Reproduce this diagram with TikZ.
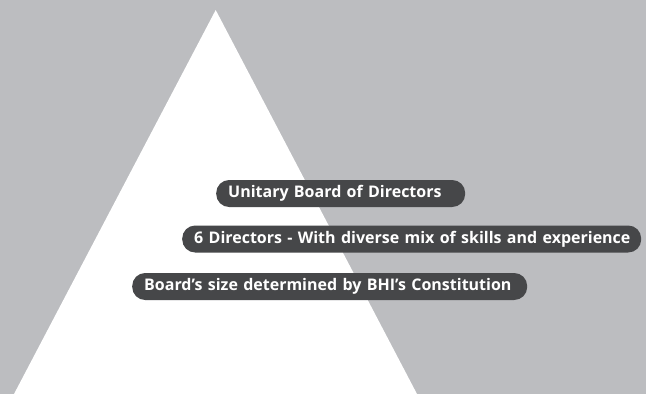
\documentclass[tikz,border=0pt]{standalone}
\usepackage{fontspec}
\setmainfont{Open Sans}
\usepackage{xcolor}

\tikzset{
  pill/.style={fill=pillGray, text=white, rounded corners=13pt, minimum height=27pt,
    inner xsep=12pt, inner ysep=0pt, align=left, anchor=west,
    font=\fontsize{16}{18}\selectfont\bfseries}
}

\begin{document}
\begin{tikzpicture}[x=1pt,y=-1pt]
\definecolor{bgGray}{RGB}{188,189,192}
\definecolor{pillGray}{RGB}{70,71,73}
\useasboundingbox (0,0) rectangle (646,394);
\fill[bgGray] (0,0) rectangle (646,394);
% white pyramid
\fill[white] (215.7,10) -- (417,394) -- (14,394) -- cycle;
% labels
\node[pill, text width=225pt] (unitary) at (216,193.5) {\mbox{Unitary Board of Directors}};
\node[pill, text width=435pt] (directors) at (182,239) {\mbox{6 Directors - With diverse mix of skills and experience}};
\node[pill, text width=371pt] (size) at (132,286.5) {\mbox{Board’s size determined by BHI’s Constitution}};
\end{tikzpicture}
\end{document}
